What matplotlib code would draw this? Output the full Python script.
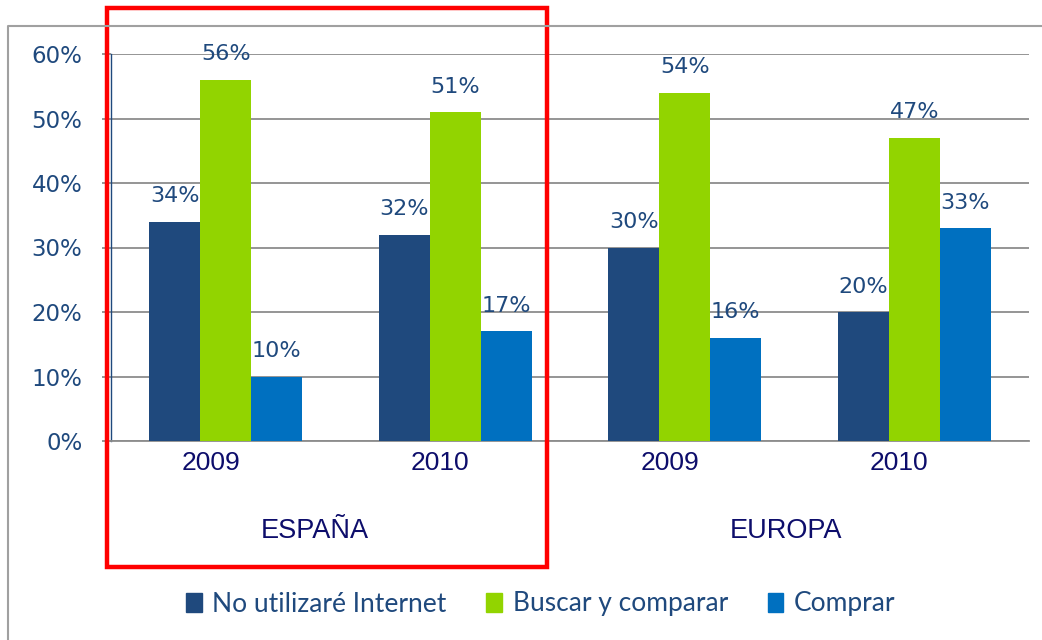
import numpy as np
import matplotlib
matplotlib.use("Agg")
import matplotlib.pyplot as plt
import matplotlib.transforms as mtransforms
from matplotlib.patches import Rectangle
from matplotlib.lines import Line2D

years = ["2009", "2010", "2009", "2010"]
regions = ["ESPAÑA", "EUROPA"]
region_pos = [0.39, 2.44]
series = ["No utilizaré Internet", "Buscar y comparar", "Comprar"]
no_internet = [0.34, 0.32, 0.30, 0.20]
buscar = [0.56, 0.51, 0.54, 0.47]
comprar = [0.10, 0.17, 0.16, 0.33]
colors = ["#1F497D", "#92D400", "#0070C0"]

text_blue = "#1F497D"
navy = "#0D0D6B"
grid_gray = "#8C8C8C"

W, H = 1042, 640
fig = plt.figure(figsize=(W / 100, H / 100), dpi=100)
ax = fig.add_axes([111 / W, 1 - 441 / H, (1029 - 111) / W, (441 - 54) / H])

x = np.arange(len(years))
bw = 0.222
for i, vals in enumerate([no_internet, buscar, comprar]):
    bars = ax.bar(x + (i - 1) * bw, vals, bw, color=colors[i], label=series[i], zorder=3)
    for b, v in zip(bars, vals):
        ax.annotate(f"{v * 100:.0f}%", (b.get_x() + b.get_width() / 2, v),
                    xytext=(0, 14), textcoords="offset points", ha="center", va="baseline",
                    fontsize=16, color=text_blue, family="DejaVu Sans")

ax.set_xlim(-0.5, 3.5)
ax.set_ylim(0, 0.6)
ax.set_yticks(np.arange(0, 0.61, 0.1))
ax.set_yticklabels([f"{t}%" for t in range(0, 61, 10)], fontsize=16.5, color=text_blue)
ax.yaxis.grid(True, color=grid_gray, linewidth=1.3, zorder=0)
ax.set_axisbelow(True)
ax.tick_params(axis="y", length=6.5, width=1.3, color=grid_gray, pad=14)
ax.set_xticks(x)
ax.set_xticklabels(years, fontsize=19, color=navy, family="Liberation Sans")
ax.tick_params(axis="x", length=0, pad=7)
shift = mtransforms.ScaledTranslation(-15 / 100, 0, fig.dpi_scale_trans)
for lab in ax.get_xticklabels():
    lab.set_transform(lab.get_transform() + shift)

for s in ["top", "right"]:
    ax.spines[s].set_visible(False)
ax.spines["bottom"].set_color(grid_gray)
ax.spines["bottom"].set_linewidth(1.3)
ax.spines["left"].set_color(text_blue)
ax.spines["left"].set_linewidth(1.0)

# region labels under the year labels
reg_tr = mtransforms.blended_transform_factory(ax.transData, fig.transFigure)
for pos, name in zip(region_pos, regions):
    ax.text(pos, 1 - 531 / H, name, transform=reg_tr, ha="center", va="center",
            fontsize=19.5, color=navy, family="Liberation Sans", clip_on=False)

# legend
handles = [Rectangle((0, 0), 1, 1, color=c) for c in colors]
fig.legend(handles, series, loc="center", bbox_to_anchor=(0.519, 1 - 604 / H), ncol=3, frameon=False,
           prop={"family": "Lato", "size": 19}, labelcolor=text_blue,
           handlelength=0.6, handleheight=0.7, handletextpad=0.4, columnspacing=1.5)

# outer frame and red highlight box
fig.add_artist(Line2D([8 / W, 8 / W, 1], [0, 1 - 26 / H, 1 - 26 / H], color="#A0A0A0", linewidth=1.5))
fig.add_artist(Rectangle((107 / W, 1 - 567 / H), (547 - 107) / W, (567 - 8) / H,
                         fill=False, edgecolor="#FF0000", linewidth=3.2))

fig.savefig("out.png", dpi=100)
